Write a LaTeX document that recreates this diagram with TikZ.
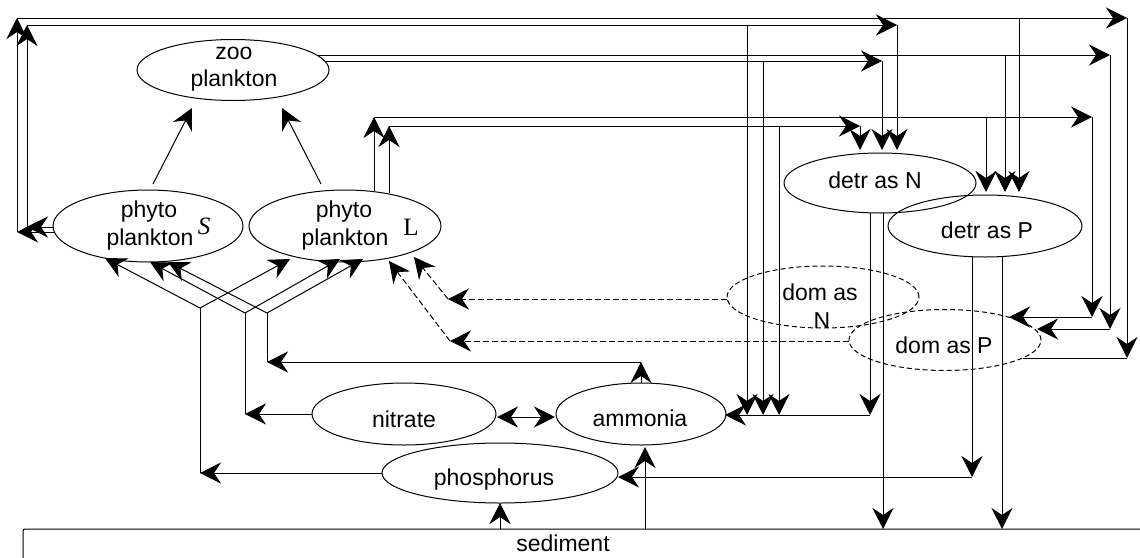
\documentclass[tikz,border=0pt]{standalone}
\usepackage{fontspec}
\setmainfont{Liberation Sans}
\newfontfamily\serifA{Liberation Serif}
\usetikzlibrary{arrows.meta,calc,shapes.geometric}
\begin{document}
\begin{tikzpicture}[x=1pt,y=-1pt,
 ell/.style={draw, ellipse, line width=1pt, inner sep=0pt, outer sep=0pt},
 dell/.style={ell, dash pattern=on 5pt off 3pt},
 txt/.style={font=\fontsize{23}{27}\selectfont, inner sep=0pt, anchor=base},
 subl/.style={font=\serifA\fontsize{25}{27}\selectfont, inner sep=0pt, anchor=base},
 ln/.style={line width=1pt},
 tipA/.tip={Stealth[length=21pt,width=21pt,inset=7pt]},
 arr/.style={ln, -tipA},
 darr/.style={arr, dash pattern=on 6pt off 3pt},
 biarr/.style={ln, tipA-tipA}]
\useasboundingbox (0,0) rectangle (1140,557);

% ellipses
\node[ell, minimum width=192pt, minimum height=61pt] (zoo) at (233,70) {};
\node[ell, minimum width=190pt, minimum height=72pt] (phyS) at (148,226) {};
\node[ell, minimum width=192pt, minimum height=72pt] (phyL) at (345,226) {};
\node[ell, minimum width=192pt, minimum height=60pt] (detrN) at (880,183) {};
\node[ell, minimum width=194pt, minimum height=62pt] (detrP) at (985,226) {};
\node[dell, minimum width=192pt, minimum height=62pt] (domN) at (823,297) {};
\node[dell, minimum width=192pt, minimum height=61pt] (domP) at (945,340) {};
\node[ell, minimum width=184pt, minimum height=62pt] (nitrate) at (404,414) {};
\node[ell, minimum width=170pt, minimum height=62pt] (ammonia) at (641,414) {};
\node[ell, minimum width=236pt, minimum height=60pt] (phos) at (500,473) {};

% texts
\node[txt] (zooA) at (234,59) {zoo};
\node[txt] (zooB) at (234,86) {plankton};
\node[txt] (phySA) at (149,217) {phyto};
\node[txt] (phySB) at (150,245) {plankton};
\node[subl] (phySS) at (204,234) {\itshape S};
\node[txt] (phyLA) at (344,217) {phyto};
\node[txt] (phyLB) at (345,245) {plankton};
\node[subl] (phyLL) at (411,235) {L};
\node[txt] (detrNT) at (875,188) {detr as N};
\node[txt] (detrPT) at (987,238) {detr as P};
\node[txt] (domNA) at (820,300) {dom as};
\node[txt] (domNB) at (822,328) {N};
\node[txt] (domPT) at (944,353) {dom as P};
\node[txt] (nitT) at (404,427) {nitrate};
\node[txt] (ammT) at (640,426) {ammonia};
\node[txt] (phosT) at (494,485) {phosphorus};
\node[txt] (sedT) at (563,551) {sediment};

% sediment boundary
\draw[ln, rounded corners=2pt] (23,565) -- (23,529) -- (1150,529);

% phyto -> zoo
\draw[arr] ($(phyS)+(5,-42)$) -- ($(zoo)+(-41,38)$);
\draw[arr] ($(phyL)+(-24,-42)$) -- ($(zoo)+(49,38)$);

% phyS outer route
\draw[arr] ($(phyS.west)+(1,6)$) -- (17,232);
\draw[arr] (17,232) -- (17,18);
\draw[arr] (17,18) -- (1127,18);
\draw[arr] (1127,18) -- (1127,358);
\draw[ln] (1127,358) -- ($(domP)+(78,18)$);
\draw[arr] (1019,18) -- ($(detrP.north)+(34,-3)$);

% phyS inner route
\draw[arr] ($(phyS.west)+(1,1)$) -- (27,227);
\draw[arr] (27,227) -- (27,25);
\draw[arr] (27,25) -- (897,25);
\draw[arr] (897,25) -- ($(detrN.north)+(17,-3)$);
\draw[arr] (747,25) -- (747,415);

% zoo routes
\draw[arr] ($(zoo)+(84,-15)$) -- (1110,55);
\draw[arr] (1110,55) -- (1110,329);
\draw[arr] (1110,329) -- ($(domP)+(92,-11)$);
\draw[arr] (1005,55) -- ($(detrP.north)+(20,-3)$);
\draw[arr] ($(zoo)+(92,-9)$) -- (882,61);
\draw[arr] (882,61) -- ($(detrN.north)+(2,-3)$);
\draw[arr] (763,61) -- (763,415);

% phyL routes
\draw[arr] ($(phyL)+(29,-35)$) -- (374,117);
\draw[arr] (374,117) -- (1092,117);
\draw[arr] (1092,117) -- (1092,317);
\draw[arr] (1092,317) -- ($(domP)+(64,-23)$);
\draw[arr] (986,117) -- ($(detrP.north)+(1,-3)$);
\draw[arr] ($(phyL)+(44,-33)$) -- (389,126);
\draw[arr] (389,126) -- (860,126);
\draw[arr] (860,126) -- ($(detrN.north)+(-20,-3)$);
\draw[arr] (779,126) -- (779,415);

% detritus N
\draw[arr] ($(detrN.south)+(-10,0)$) -- (870,415);
\draw[arr] (870,415) -- ($(ammonia.east)+(-1,1)$);
\draw[arr] ($(detrN.south)+(3,0)$) -- (883,529);

% detritus P
\draw[arr] ($(detrP.south)+(-13,0)$) -- (972,477);
\draw[arr] (972,477) -- ($(phos.east)+(0,4)$);
\draw[arr] ($(detrP.south)+(17,0)$) -- (1002,529);

% sediment
\draw[arr] (645,529) -- ($(ammonia.south)+(4,2)$);
\draw[arr] (500,529) -- (phos.south);

% ammonia uptake
\draw[arr] (ammonia.north) -- (641,362);
\draw[arr] (641,362) -- (267,362);
\draw[ln] (267,362) -- (267,313);
\draw[arr] (267,313) -- ($(phyS)+(20,36)$);
\draw[arr] (267,313) -- ($(phyL)+(18,33)$);

% nitrate uptake
\draw[arr] (nitrate.west) -- (245,414);
\draw[ln] (245,414) -- (245,313);
\draw[arr] (245,313) -- ($(phyS)+(2,36)$);
\draw[arr] (245,313) -- ($(phyL)+(-5,33)$);

% phosphorus uptake
\draw[arr] (phos.west) -- (200,473);
\draw[ln] (200,473) -- (200,308);
\draw[arr] (200,308) -- ($(phyS)+(-43,32)$);
\draw[arr] (200,308) -- ($(phyL)+(-55,33)$);

% nitrate <-> ammonia
\draw[biarr] ($(nitrate.east)+(1,3)$) -- ($(ammonia.west)+(-1,3)$);

% dom -> phyto L (dashed)
\draw[darr] ($(domN.west)+(0,2)$) -- (448,299);
\draw[darr] (448,299) -- ($(phyL)+(69,31)$);
\draw[darr] ($(domP.west)+(0,1)$) -- (450,341);
\draw[darr] (450,341) -- ($(phyL)+(44,35)$);
\end{tikzpicture}
\end{document}
